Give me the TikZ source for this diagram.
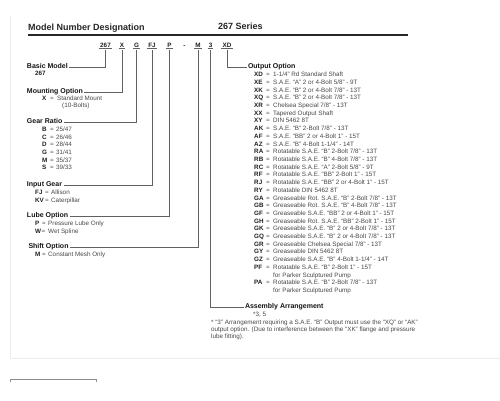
\documentclass[tikz,border=0pt]{standalone}
\usepackage{fontspec}
\setmainfont{Liberation Sans}
\usetikzlibrary{positioning}

\begin{document}
\begin{tikzpicture}[x=1pt, y=-1pt, font=\fontsize{6.3}{7.2}\selectfont,
    every node/.style={inner sep=0pt, anchor=west, text=black!72, text height=4.6pt, text depth=1.3pt},
    head/.style={font=\fontsize{7}{8}\selectfont\bfseries, text=black!92, outer xsep=1.5pt, text height=5.1pt, text depth=1.4pt},
    code/.style={font=\fontsize{6.3}{7.2}\selectfont\bfseries, text=black!88},
    link/.style={draw=black!62, line width=0.75pt},
    ]
    \useasboundingbox (0,0) rectangle (500,400);
    
    % page edges
    \draw[black!7, line width=0.6pt] (10,16) -- (10,358) -- (500,358);
    \draw[black!45, line width=0.6pt] (10,382) -- (10,379) -- (96,379) -- (96,382);
    
    % title
    \node[font=\fontsize{9}{10}\selectfont\bfseries, text=black!85, text height=6.6pt, text depth=1.9pt] (title) at (28,28) {Model Number Designation};
    \node[font=\fontsize{9}{10}\selectfont\bfseries, text=black!85, text height=6.6pt, text depth=1.9pt] (series) at (218,27.5) {267 Series};
    \draw[line width=1.3pt, black!85] (28,35) -- (408,35);
    
    % model number codes
    \foreach \n/\t/\x in {c267/267/105.5, cX/X/122, cG/G/136.5, cFJ/FJ/152, cP/P/169.5, cM/M/198, c3/3/210.5, cXD/XD/227} {
        \node[code, anchor=base, text depth=0pt] (\n) at (\x,47) {\t};
        \draw[link] ([xshift=-1pt, yshift=-1.3pt]\n.south west) -- ([xshift=1pt, yshift=-1.3pt]\n.south east);
    }
    \node[code, anchor=base, text depth=0pt] (cdash) at (184.5,47) {-};
    
    % left column
    \node[head] (hbasic) at (25.5,67) {Basic Model};
    \node[code] (vbasic) at (35,74) {267};
    
    \node[head] (hmount) at (25.5,92) {Mounting Option};
    \node[code] (kmount) at (42,99) {X};
    \node (emount) at (50,99) {=};
    \node (vmount) at (57,99) {Standard Mount};
    \node (vmount2) at (62,106) {(10-Bolts)};
    
    \node[head] (hgear) at (25.5,122) {Gear Ratio};
    \foreach \i/\c/\v in {0/B/{25/47}, 1/C/{26/46}, 2/D/{28/44}, 3/G/{31/41}, 4/M/{35/37}, 5/S/{39/33}} {
        \node[code] (kgear\i) at (42,{130+7.6*\i}) {\c};
        \node (egear\i) at (50,{130+7.6*\i}) {=};
        \node (vgear\i) at (56,{130+7.6*\i}) {\v};
    }
    
    \node[head] (hinput) at (25.5,185) {Input Gear};
    \node[code] (kinput1) at (35,193) {FJ};
    \node (einput1) at (45,193) {=};
    \node (vinput1) at (51,193) {Allison};
    \node[code] (kinput2) at (35,200.5) {KV};
    \node (einput2) at (45,200.5) {=};
    \node (vinput2) at (51,200.5) {Caterpillar};
    
    \node[head] (hlube) at (25.5,216) {Lube Option};
    \node[code] (klube1) at (35,224) {P};
    \node (elube1) at (42,224) {=};
    \node (vlube1) at (48,224) {Pressure Lube Only};
    \node[code] (klube2) at (35,231.5) {W};
    \node (elube2) at (41.5,231.5) {=};
    \node (vlube2) at (48,231.5) {Wet Spline};
    
    \node[head] (hshift) at (27,247) {Shift Option};
    \node[code] (kshift) at (35,255) {M};
    \node (eshift) at (42,255) {=};
    \node (vshift) at (48,255) {Constant Mesh Only};
    
    % right column
    \node[head] (hout) at (246.5,67) {Output Option};
    \foreach \i/\c/\v in {
        0/XD/{1-1/4'' Rd Standard Shaft},
        1/XE/{S.A.E. ``A'' 2 or 4-Bolt 5/8'' - 9T},
        2/XK/{S.A.E. ``B'' 2 or 4-Bolt 7/8'' - 13T},
        3/XQ/{S.A.E. ``B'' 2 or 4-Bolt 7/8'' - 13T},
        4/XR/{Chelsea Special 7/8'' - 13T},
        5/XX/{Tapered Output Shaft},
        6/XY/{DIN 5462 8T},
        7/AK/{S.A.E. ``B'' 2-Bolt 7/8'' - 13T},
        8/AF/{S.A.E. ``BB'' 2 or 4-Bolt 1'' - 15T},
        9/AZ/{S.A.E. ``B'' 4-Bolt 1-1/4'' - 14T},
        10/RA/{Rotatable S.A.E. ``B'' 2-Bolt 7/8'' - 13T},
        11/RB/{Rotatable S.A.E. ``B'' 4-Bolt 7/8'' - 13T},
        12/RC/{Rotatable S.A.E. ``A'' 2-Bolt 5/8'' - 9T},
        13/RF/{Rotatable S.A.E. ``BB'' 2-Bolt 1'' - 15T},
        14/RJ/{Rotatable S.A.E. ``BB'' 2 or 4-Bolt 1'' - 15T},
        15/RY/{Rotatable DIN 5462 8T},
        16/GA/{Greaseable Rot. S.A.E. ``B'' 2-Bolt 7/8'' - 13T},
        17/GB/{Greaseable Rot. S.A.E. ``B'' 4-Bolt 7/8'' - 13T},
        18/GF/{Greaseable S.A.E. ``BB'' 2 or 4-Bolt 1'' - 15T},
        19/GH/{Greaseable Rot. S.A.E. ``BB'' 2-Bolt 1'' - 15T},
        20/GK/{Greaseable S.A.E. ``B'' 2 or 4-Bolt 7/8'' - 13T},
        21/GQ/{Greaseable S.A.E. ``B'' 2 or 4-Bolt 7/8'' - 13T},
        22/GR/{Greaseable Chelsea Special 7/8'' - 13T},
        23/GY/{Greaseable DIN 5462 8T},
        24/GZ/{Greaseable S.A.E. ``B'' 4-Bolt 1-1/4'' - 14T},
        25/PF/{Rotatable S.A.E. ``B'' 2-Bolt 1'' - 15T},
        27/PA/{Rotatable S.A.E. ``B'' 2-Bolt 7/8'' - 13T}%
    } {
        \node[code] (kout\i) at (254,{75+7.71*\i}) {\c};
        \node (eout\i) at (266,{75+7.71*\i}) {=};
        \node (vout\i) at (273,{75+7.71*\i}) {\v};
    }
    \node (vout26) at (273,{75+7.71*26}) {for Parker Sculptured Pump};
    \node (vout28) at (273,{75+7.71*28}) {for Parker Sculptured Pump};
    
    \node[head] (hasm) at (243.5,307) {Assembly Arrangement};
    \node (vasm) at (253,315) {*3, 5};
    \node[align=left, text height=, text depth=] (note) at (211,330) {* ``3'' Arrangement requiring a S.A.E. ``B'' Output must use the ``XQ'' or ``AK''\\
        output option. (Due to interference between the ``XK'' flange and pressure\\
        lube fitting).};
    
    % connectors
    \draw[link] (hbasic.east) -| ([yshift=-3pt]c267.south);
    \draw[link] (hmount.east) -| ([yshift=-3pt]cX.south);
    \draw[link] (hgear.east) -| ([yshift=-3pt]cG.south);
    \draw[link] (hinput.east) -| ([yshift=-3pt]cFJ.south);
    \draw[link] (hlube.east) -| ([yshift=-3pt]cP.south);
    \draw[link] (hshift.east) -| ([yshift=-3pt]cM.south);
    \draw[link] ([yshift=-3pt]c3.south) |- (hasm.west);
    \draw[link] ([yshift=-3pt]cXD.south) |- (hout.west);
\end{tikzpicture}
\end{document}
